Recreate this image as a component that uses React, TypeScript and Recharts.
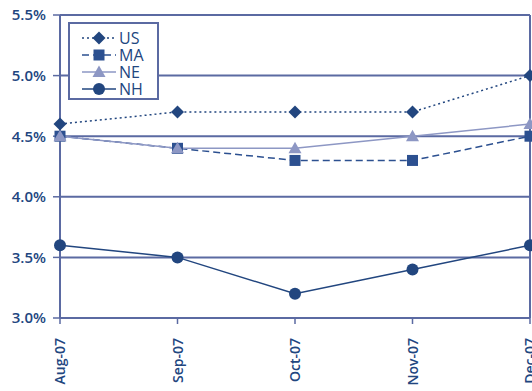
import React from "react"
import { LineChart, Line, XAxis, YAxis, CartesianGrid, ReferenceLine } from "recharts"

const months = ["Aug-07", "Sep-07", "Oct-07", "Nov-07", "Dec-07"]
const us = [4.6, 4.7, 4.7, 4.7, 5.0]
const ma = [4.5, 4.4, 4.3, 4.3, 4.5]
const ne = [4.5, 4.4, 4.4, 4.5, 4.6]
const nh = [3.6, 3.5, 3.2, 3.4, 3.6]
const yTicks = [3.0, 3.5, 4.0, 4.5, 5.0, 5.5]

const data = months.map((m, i) => ({ month: m, US: us[i], MA: ma[i], NE: ne[i], NH: nh[i] }))

const NAVY = "#22467f"
const GRID = "#5b6aa2"
const LIGHT = "#8d97c4"
const FONT = "'Open Sans', sans-serif"

type Shape = "diamond" | "square" | "triangle" | "circle"

function marker(shape: Shape, cx: number, cy: number, color: string, key?: string) {
  if (shape === "diamond") {
    const s = 6.5
    return <path key={key} d={`M${cx},${cy - s}L${cx + s},${cy}L${cx},${cy + s}L${cx - s},${cy}Z`} fill={color} />
  }
  if (shape === "square") {
    return <rect key={key} x={cx - 5.5} y={cy - 5.5} width={11} height={11} fill={color} />
  }
  if (shape === "triangle") {
    return <path key={key} d={`M${cx},${cy - 6.5}L${cx + 6.5},${cy + 5}L${cx - 6.5},${cy + 5}Z`} fill={color} />
  }
  return <circle key={key} cx={cx} cy={cy} r={6} fill={color} />
}

const dotFor = (shape: Shape, color: string) => (p: any) =>
  marker(shape, p.cx, p.cy, color, `${shape}-${p.index}`)

const series: { key: string; shape: Shape; color: string; dash?: string }[] = [
  { key: "US", shape: "diamond", color: NAVY, dash: "2 3" },
  { key: "MA", shape: "square", color: "#2c5090", dash: "7 4" },
  { key: "NE", shape: "triangle", color: LIGHT },
  { key: "NH", shape: "circle", color: NAVY },
]

// legend drawn as an overlay so it doesn't eat into the plot height
function LegendBox() {
  return (
    <svg width={92} height={79} style={{ position: "absolute", left: 68, top: 22 }}>
      <rect x={1} y={1} width={89} height={76} fill="#fff" stroke={GRID} strokeWidth={2} />
      {series.map((s, i) => {
        const y = 16 + i * 17
        return (
          <g key={s.key}>
            <line x1={14} x2={48} y1={y} y2={y} stroke={s.color} strokeWidth={1.5} strokeDasharray={s.dash} />
            {marker(s.shape, 31, y, s.color)}
            <text x={51} y={y + 6} fill={NAVY} fontSize={16} fontFamily={FONT}>{s.key}</text>
          </g>
        )
      })}
    </svg>
  )
}

function XTick(props: any) {
  const { x, y, payload } = props
  return (
    <text x={x + 5} y={y + 12} transform={`rotate(-90, ${x + 5}, ${y + 12})`} textAnchor="end"
      fill={NAVY} fontSize={14} fontWeight={600} fontFamily={FONT}>
      {payload.value}
    </text>
  )
}

export default function App() {
  return (
    <div style={{ position: "absolute", left: 0, top: 0, background: "#fff", width: 532, height: 391, overflow: "hidden" }}>
      <LineChart width={532} height={391} data={data} margin={{ top: 15, right: 2, left: 0, bottom: 0 }}>
        <CartesianGrid vertical={false} stroke={GRID} strokeWidth={2} />
        <ReferenceLine x="Dec-07" stroke={GRID} strokeWidth={2} />
        <XAxis dataKey="month" height={73} interval={0} tick={<XTick />} tickLine={{ stroke: GRID, strokeWidth: 1.5 }}
          tickSize={6} axisLine={{ stroke: GRID, strokeWidth: 2 }} />
        <YAxis width={60} domain={[3, 5.5]} ticks={yTicks} tickFormatter={(v: number) => v.toFixed(1) + "%"}
          tick={{ fill: NAVY, fontSize: 15, fontWeight: 600, fontFamily: FONT, dx: -5 }}
          tickLine={{ stroke: GRID, strokeWidth: 1.5 }} tickSize={7} axisLine={{ stroke: GRID, strokeWidth: 2 }} />
        {series.map((s) => (
          <Line key={s.key} dataKey={s.key} stroke={s.color} strokeWidth={1.5} strokeDasharray={s.dash}
            dot={dotFor(s.shape, s.color)} isAnimationActive={false} />
        ))}
      </LineChart>
      <LegendBox />
    </div>
  )
}
